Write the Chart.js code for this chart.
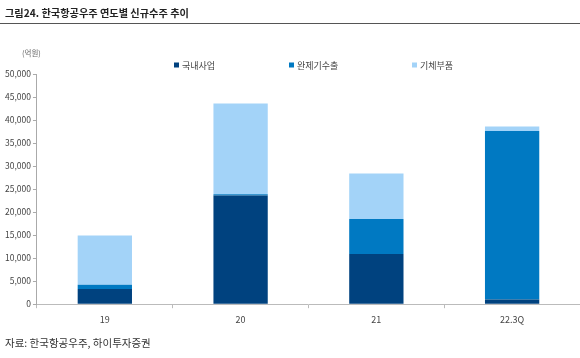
<!DOCTYPE html>
<html><head><meta charset="utf-8">
<script src="https://cdn.jsdelivr.net/npm/chart.js@4/dist/chart.umd.min.js"></script>
<style>
html,body{margin:0;padding:0;background:#fff;}
#wrap{position:relative;width:580px;height:358px;}
</style></head>
<body><div id="wrap"><canvas id="c" width="580" height="358"></canvas></div>
<script>
const categories = ['19', '20', '21', '22.3Q'];
const domestic = [3300, 23600, 10900, 1000];
const exportsAircraft = [900, 300, 7600, 36600];
const aerostructures = [10700, 19700, 9900, 1000];
const yTicks = [0, 5000, 10000, 15000, 20000, 25000, 30000, 35000, 40000, 45000, 50000];
const seriesNames = ['국내사업', '완제기수출', '기체부품'];
const titleText = '그림24. 한국항공우주 연도별 신규수주 추이';
const unitText = '(억원)';
const sourceText = '자료: 한국항공우주, 하이투자증권';

const FONT = '"Noto Sans CJK KR", "Noto Sans", sans-serif';
const colors = ['#00427F', '#0079C2', '#A3D3F8'];

const decor = {
  id: 'decor',
  afterDraw(chart) {
    const ctx = chart.ctx;
    ctx.save();
    ctx.fillStyle = '#222';
    ctx.font = '700 10.2px ' + FONT;
    ctx.textBaseline = 'middle';
    ctx.textAlign = 'left';
    ctx.fillText(titleText, 5, 13);
    ctx.strokeStyle = '#555';
    ctx.lineWidth = 1;
    ctx.beginPath(); ctx.moveTo(0, 23.5); ctx.lineTo(580, 23.5); ctx.stroke();
    ctx.fillStyle = '#666';
    ctx.font = '7.5px ' + FONT;
    ctx.fillText(unitText, 22, 53);
    ctx.fillStyle = '#333';
    ctx.font = '10.5px ' + FONT;
    ctx.fillText(sourceText, 5, 343);
    // legend
    const xs = [174, 289, 412];
    ctx.font = '9px ' + FONT;
    chart.data.datasets.forEach((ds, i) => {
      ctx.fillStyle = ds.backgroundColor;
      ctx.fillRect(xs[i], 62.5, 5, 5);
      ctx.fillStyle = '#444';
      ctx.fillText(ds.label, xs[i] + 8, 65.5);
    });
    ctx.restore();
  }
};

new Chart(document.getElementById('c'), {
  type: 'bar',
  data: {
    labels: categories,
    datasets: [
      { label: seriesNames[0], data: domestic, backgroundColor: colors[0] },
      { label: seriesNames[1], data: exportsAircraft, backgroundColor: colors[1] },
      { label: seriesNames[2], data: aerostructures, backgroundColor: colors[2] }
    ]
  },
  options: {
    responsive: false,
    animation: false,
    layout: { padding: { top: 74, left: 3, right: 0, bottom: 27 } },
    plugins: { legend: { display: false }, tooltip: { enabled: false } },
    datasets: { bar: { barPercentage: 0.4, categoryPercentage: 1 } },
    scales: {
      x: {
        stacked: true,
        grid: { drawOnChartArea: false, drawTicks: true, tickLength: 4, color: '#bbb' },
        border: { color: '#bbb', width: 1 },
        ticks: { color: '#444', font: { family: FONT, size: 9 }, padding: 6 }
      },
      y: {
        stacked: true,
        min: 0, max: 50000,
        afterBuildTicks(axis) { axis.ticks = yTicks.map(v => ({ value: v })); },
        grid: { drawOnChartArea: false, drawTicks: true, tickLength: 4, color: '#aaa' },
        border: { color: '#aaa', width: 1 },
        ticks: {
          color: '#444', font: { family: FONT, size: 8.5 }, padding: 2,
          callback: v => v.toLocaleString('en-US')
        }
      }
    }
  },
  plugins: [decor]
});
</script></body></html>
